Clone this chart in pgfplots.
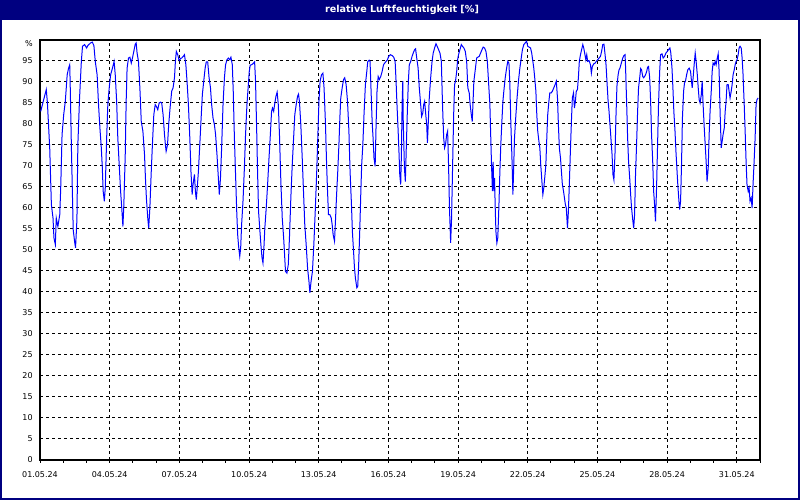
\documentclass[border=0pt]{standalone}
\usepackage{fontspec}
\setmainfont{DejaVu Sans}
\usepackage{pgfplots}
\pgfplotsset{compat=1.18}
\definecolor{navyframe}{RGB}{0,0,128}
\begin{document}
\fontsize{8bp}{9.6bp}\selectfont
\begin{tikzpicture}[x=1bp,y=1bp]
\useasboundingbox (0,0) rectangle (800,500);
\fill[white] (0,0) rectangle (800,500);
\fill[navyframe] (0,480) rectangle (800,500);
\draw[navyframe,line width=2bp] (1,1) rectangle (799,499);
\node[text=white,font=\fontsize{9.6bp}{11bp}\selectfont\bfseries] at (402,490) {relative Luftfeuchtigkeit [\%]};
\begin{axis}[
  at={(40bp,40bp)}, anchor=south west, scale only axis,
  width=720bp, height=420bp,
  xmin=0, xmax=31, ymin=0, ymax=100,
  xtick={0,3,...,30},
  xticklabels={01.05.24,04.05.24,07.05.24,10.05.24,13.05.24,16.05.24,19.05.24,22.05.24,25.05.24,28.05.24,31.05.24},
  minor xtick={0,1,...,31},
  ytick={0,5,...,100},
  yticklabels={0,5,10,15,20,25,30,35,40,45,50,55,60,65,70,75,80,85,90,95,\raisebox{-7bp}[0pt][0pt]{\%}},
  xtick pos=bottom, ytick pos=left,
  tick align=outside,
  major tick length=3bp, minor tick length=3bp,
  ytick style={draw=none},
  xtick style={black, line width=1bp},
  minor x tick style={black, line width=1bp},
  xmajorgrids, ymajorgrids,
  major grid style={black, line width=1bp, dash pattern=on 3bp off 3bp},
  axis line style={black, line width=1.5bp},
  xticklabel style={yshift=-6bp},
  yticklabel style={xshift=-1.5bp},
]
\addplot[blue, line width=1bp, mark=none] coordinates {
(0.03,83)(0.27,88.2)(0.32,85)(0.42,74)(0.49,60.8)(0.56,57.6)(0.60,52.9)(0.66,51.3)(0.70,57.6)(0.77,55.6)(0.85,58.4)(0.89,64.4)(0.95,77.5)(1.02,82.2)(1.09,85.4)(1.17,91.7)(1.23,93.3)(1.28,94.1)(1.30,89.4)(1.35,75)(1.39,64.8)(1.43,54.8)(1.49,52)(1.53,50.5)(1.59,57.2)(1.63,75.1)(1.70,85.8)(1.78,94.9)(1.83,98.5)(1.92,98.9)(2.01,98.1)(2.06,98.7)(2.18,99.3)(2.25,99.5)(2.32,98.7)(2.38,94.9)(2.46,91.7)(2.52,84.6)(2.58,79)(2.64,74.3)(2.68,69.9)(2.72,64)(2.77,61.6)(2.81,64.8)(2.87,76.7)(2.92,84.6)(2.98,88.6)(3.04,91.7)(3.12,93.3)(3.19,94.9)(3.24,91.7)(3.30,85.4)(3.35,76.7)(3.41,70.3)(3.47,64)(3.52,60)(3.57,55.6)(3.61,60.8)(3.67,72.7)(3.71,85.4)(3.75,93.3)(3.81,95.7)(3.87,95.9)(3.93,94.5)(3.98,95.7)(4.04,97.3)(4.10,99)(4.14,99.3)(4.18,96.9)(4.24,94.9)(4.30,88.6)(4.36,80.6)(4.43,78.3)(4.50,72.7)(4.54,67.1)(4.58,62.4)(4.64,57.6)(4.68,55.2)(4.73,60)(4.79,68.7)(4.84,75.1)(4.90,82.2)(4.96,84.6)(5.01,84.2)(5.07,83.4)(5.13,85)(5.19,85.2)(5.24,85)(5.30,82.2)(5.36,77.5)(5.40,75)(5.43,73.5)(5.49,75)(5.54,79.8)(5.60,83.8)(5.67,87.8)(5.73,88.6)(5.79,91)(5.83,94.9)(5.87,97.3)(5.93,96.5)(5.99,95.1)(6.07,95.7)
(6.10,95.7)(6.17,96.1)(6.22,96.5)(6.28,94.1)(6.33,90.2)(6.39,84.6)(6.45,76.7)(6.50,68.7)(6.55,63.2)(6.59,65.6)(6.65,68)(6.69,64)(6.73,62)(6.78,65.6)(6.82,68.7)(6.88,75.1)(6.93,80.6)(6.99,87)(7.05,90.2)(7.11,93.3)(7.16,94.8)(7.22,94.8)(7.28,91)(7.34,88.6)(7.39,84.6)(7.45,81.4)(7.51,79.8)(7.56,77.5)(7.62,72.7)(7.68,67.1)(7.72,63.2)(7.77,67.1)(7.82,74.3)(7.88,84.6)(7.94,91)(7.99,94.1)(8.05,95.3)(8.11,95.7)(8.17,95.3)(8.22,95.9)(8.28,94.1)(8.32,87.8)(8.37,76.7)(8.42,67.9)(8.47,59.2)(8.51,53.7)(8.55,50.9)(8.60,48.5)(8.64,50.5)(8.68,56)(8.74,61.6)(8.80,69.5)(8.85,77.5)(8.91,84.6)(8.97,89.4)(9.01,92.5)(9.05,94)(9.11,94.1)(9.18,94.4)(9.24,94.8)(9.28,90.2)(9.33,78.3)(9.37,67.9)(9.41,59.2)(9.47,54.4)(9.51,51.3)(9.56,48.1)(9.60,46.9)(9.64,50.5)(9.68,55.2)(9.74,60)(9.80,65.6)(9.86,71.9)(9.91,76.7)(9.97,83)(10.01,83.8)(10.06,83)(10.10,84.6)(10.16,86.6)(10.21,87.6)(10.26,84.6)(10.31,77.5)(10.37,66.3)(10.43,57.6)(10.49,52.9)(10.53,48.9)(10.57,44.9)(10.63,44.5)(10.69,46.5)(10.74,52.9)(10.80,62.4)(10.86,70.3)(10.92,76.7)(10.97,82.2)(11.03,84.6)(11.09,86.6)(11.13,87.1)(11.17,85.4)(11.23,79.8)(11.29,71.9)(11.35,63.2)(11.40,56)(11.46,51.3)(11.52,45.7)(11.58,42.5)(11.62,39.8)(11.67,42.5)(11.73,44.9)(11.79,51.3)(11.85,59.2)(11.91,67.9)(11.96,76.7)(12.01,85.4)(12.06,90.2)(12.12,91.7)(12.18,92.1)(12.23,88.6)
(12.29,80.2)(12.34,70.3)(12.38,64)(12.42,58.4)(12.48,58.4)(12.54,57.6)(12.58,56)(12.62,53.7)(12.68,52.1)(12.72,56.8)(12.77,63.2)(12.82,68.7)(12.87,75.1)(12.91,81.4)(12.95,86.2)(13.01,88.6)(13.07,90.6)(13.12,91)(13.18,89.4)(13.24,85.4)(13.30,78.3)(13.35,68.7)(13.41,60.8)(13.45,54.4)(13.50,49.7)(13.54,45.7)(13.58,43.3)(13.64,41)(13.68,41.3)(13.72,46.5)(13.77,55.2)(13.81,63.2)(13.85,70.3)(13.90,75.1)(13.95,82.2)(14.01,89.4)(14.07,92.5)(14.11,94.8)(14.17,95.2)(14.21,94.9)(14.25,88.6)(14.30,80.6)(14.34,76.7)(14.38,71.9)(14.43,69.9)(14.47,79.8)(14.51,87.8)(14.56,91.3)(14.61,90.6)(14.67,91.3)(14.73,92.5)(14.79,94.1)(14.84,94.5)(14.90,94.9)(14.96,95.3)(15.01,96.1)(15.09,96.5)(15.16,96.3)(15.23,95.9)(15.29,94.9)(15.33,90.2)(15.37,84.6)(15.42,78.3)(15.46,72.7)(15.49,67.9)(15.53,65.6)(15.56,72.7)(15.59,84.6)(15.62,90.2)(15.64,80.6)(15.69,69.5)(15.73,66.3)(15.77,74.3)(15.82,83.8)(15.86,90.2)(15.90,94.1)(15.96,94.9)(16.02,96.1)(16.07,96.9)(16.13,97.7)(16.17,97.9)(16.22,95.7)(16.28,93.3)(16.33,88.6)(16.39,84.6)(16.43,81.8)(16.48,82.6)(16.52,84.6)(16.56,85.4)(16.61,82.2)(16.65,79.8)(16.68,75.5)(16.72,80.6)(16.76,86.2)(16.82,91)(16.88,94.9)(16.93,96.9)(16.99,98.1)(17.05,99.1)(17.10,98.5)(17.16,97.7)(17.22,96.9)(17.28,94.9)(17.33,84.6)(17.38,76.7)(17.42,74.3)(17.46,75.1)(17.51,77.5)(17.55,78.3)(17.59,70.3)(17.63,60)(17.68,51.7)(17.72,57.6)(17.76,68.7)(17.81,82.2)(17.85,89.4)(17.89,90.2)(17.94,92.5)(17.98,95.3)(18.02,96.5)(18.08,97.7)(18.14,98.9)(18.19,98.5)(18.25,98.1)(18.31,97.3)(18.37,94.9)(18.42,88.6)
(18.48,87.4)(18.52,84.6)(18.57,82.2)(18.61,80.6)(18.64,84.6)(18.68,90.2)(18.74,92.9)(18.80,95.7)(18.85,95.9)(18.91,96.1)(18.97,96.9)(19.03,97.7)(19.08,98.3)(19.14,98.1)(19.20,97.3)(19.26,94.9)(19.31,90.2)(19.37,84.6)(19.40,78.3)(19.44,70.3)(19.48,64)(19.51,71)(19.54,64)(19.57,67.1)(19.60,60)(19.63,54.4)(19.67,51.7)(19.71,52.9)(19.76,60.8)(19.80,68.7)(19.84,75.1)(19.89,81)(19.93,85.4)(19.97,87.8)(20.03,91)(20.09,93.3)(20.14,94.9)(20.19,94.5)(20.23,89.4)(20.27,80.6)(20.32,71.9)(20.36,63.2)(20.39,68.7)(20.43,76.7)(20.49,82.2)(20.54,86.2)(20.60,90.2)(20.66,93.3)(20.72,95.7)(20.77,97.7)(20.83,98.9)(20.89,99.3)(20.95,99.7)(21.00,98.5)(21.06,98.3)(21.12,98.1)(21.17,96.9)(21.22,94.9)(21.26,93.3)(21.30,91)(21.35,87.8)(21.39,82.2)(21.43,78.3)(21.48,75.9)(21.52,74.3)(21.56,70.3)(21.60,67.1)(21.65,63.2)(21.69,64.8)(21.73,67.1)(21.78,70.3)(21.82,76.7)(21.86,82.2)(21.91,85.4)(21.95,87.4)(22.01,87.4)(22.06,87.8)(22.12,88.6)(22.18,89.4)(22.23,90.2)(22.28,86.2)(22.32,79.8)(22.36,74.3)(22.41,71.9)(22.45,68.7)(22.49,65.6)(22.54,64)(22.58,62.4)(22.62,60.8)(22.66,60)(22.71,55.2)(22.75,59.2)(22.79,65.6)(22.84,74.3)(22.88,80.6)(22.92,86.2)(22.97,87.4)(23.01,83.8)(23.05,85.4)(23.09,87.8)(23.14,88.2)(23.18,91)(23.22,94.9)(23.27,96.5)(23.32,97.7)(23.37,98.9)(23.41,98.1)(23.45,96.9)(23.50,95.3)(23.54,96.5)(23.58,94.9)(23.64,95.1)(23.70,94.1)(23.74,92.1)(23.78,93.7)(23.84,94.3)(23.90,94.5)(23.95,94.9)(24.01,95.3)(24.07,95.7)(24.13,96.1)(24.18,97.3)(24.23,98.9)(24.28,99)(24.33,96.5)(24.37,94.1)(24.41,90.2)(24.46,85.4)(24.50,83)(24.54,79.8)(24.58,76.7)(24.63,72.7)
(24.67,67.9)(24.71,66.7)(24.76,73.5)(24.80,82.2)(24.84,89)(24.89,91.7)(24.93,92.9)(24.97,93.3)(25.03,94.5)(25.09,95.7)(25.14,96.3)(25.19,96.5)(25.21,93.7)(25.26,84.6)(25.30,76.7)(25.34,71.1)(25.39,67.1)(25.43,63.2)(25.47,60)(25.52,57.2)(25.56,55.2)(25.60,58.4)(25.64,67.9)(25.69,75.9)(25.73,83)(25.77,88.6)(25.82,91)(25.86,93.2)(25.90,92.9)(25.95,91.3)(25.99,91)(26.03,91.3)(26.07,91.7)(26.12,92.5)(26.16,93.5)(26.20,93.7)(26.25,91)(26.29,85.4)(26.33,77.5)(26.38,71.1)(26.42,64)(26.46,60.8)(26.50,56.8)(26.55,65.6)(26.59,75.1)(26.63,84.6)(26.68,92.5)(26.72,96.5)(26.78,96.7)(26.83,95.7)(26.89,96.1)(26.95,96.9)(27.01,97.3)(27.06,97.7)(27.12,98.1)(27.16,96.9)(27.21,93.3)(27.25,88.6)(27.29,83)(27.34,78.3)(27.38,73.5)(27.42,69.5)(27.46,65.6)(27.51,61.6)(27.54,59.6)(27.58,61.6)(27.62,70.3)(27.66,81.4)(27.71,87.8)(27.75,89.8)(27.79,90.2)(27.84,91.7)(27.89,92.9)(27.95,93.3)(28.01,92.5)(28.05,90.2)(28.08,88.6)(28.12,91)(28.17,94.5)(28.21,96.9)(28.25,94.9)(28.30,91.7)(28.34,88.6)(28.38,85.8)(28.42,85)(28.47,86.9)(28.51,90.2)(28.55,84.6)(28.60,79)(28.64,75.1)(28.68,71.1)(28.72,66.3)(28.77,69.5)(28.81,77.5)(28.85,83)(28.90,87.8)(28.94,92.5)(28.98,94.5)(29.03,94.1)(29.07,94.9)(29.11,94.1)(29.16,95.7)(29.20,96.7)(29.24,92.5)(29.28,83)(29.33,74.3)(29.37,75.9)(29.41,77.5)(29.46,79)(29.50,83)(29.54,85.4)(29.58,89.4)(29.63,89.4)(29.67,87.8)(29.71,86.2)(29.76,87.8)(29.80,89.4)(29.84,91.7)(29.89,92.9)(29.93,94.1)(29.97,94.9)(30.01,95.3)(30.06,96.5)(30.10,98.1)(30.14,98.5)(30.19,98.1)(30.23,95.7)(30.27,91.7)(30.32,84.6)(30.36,78.3)(30.40,71.1)(30.44,65.6)(30.49,64)(30.53,64.8)(30.57,61.6)(30.62,62.4)(30.66,60)(30.70,65.6)(30.74,70.3)(30.79,76.7)(30.83,84.6)(30.87,85.8)(30.92,86.2)
};
\end{axis}
\end{tikzpicture}
\end{document}
